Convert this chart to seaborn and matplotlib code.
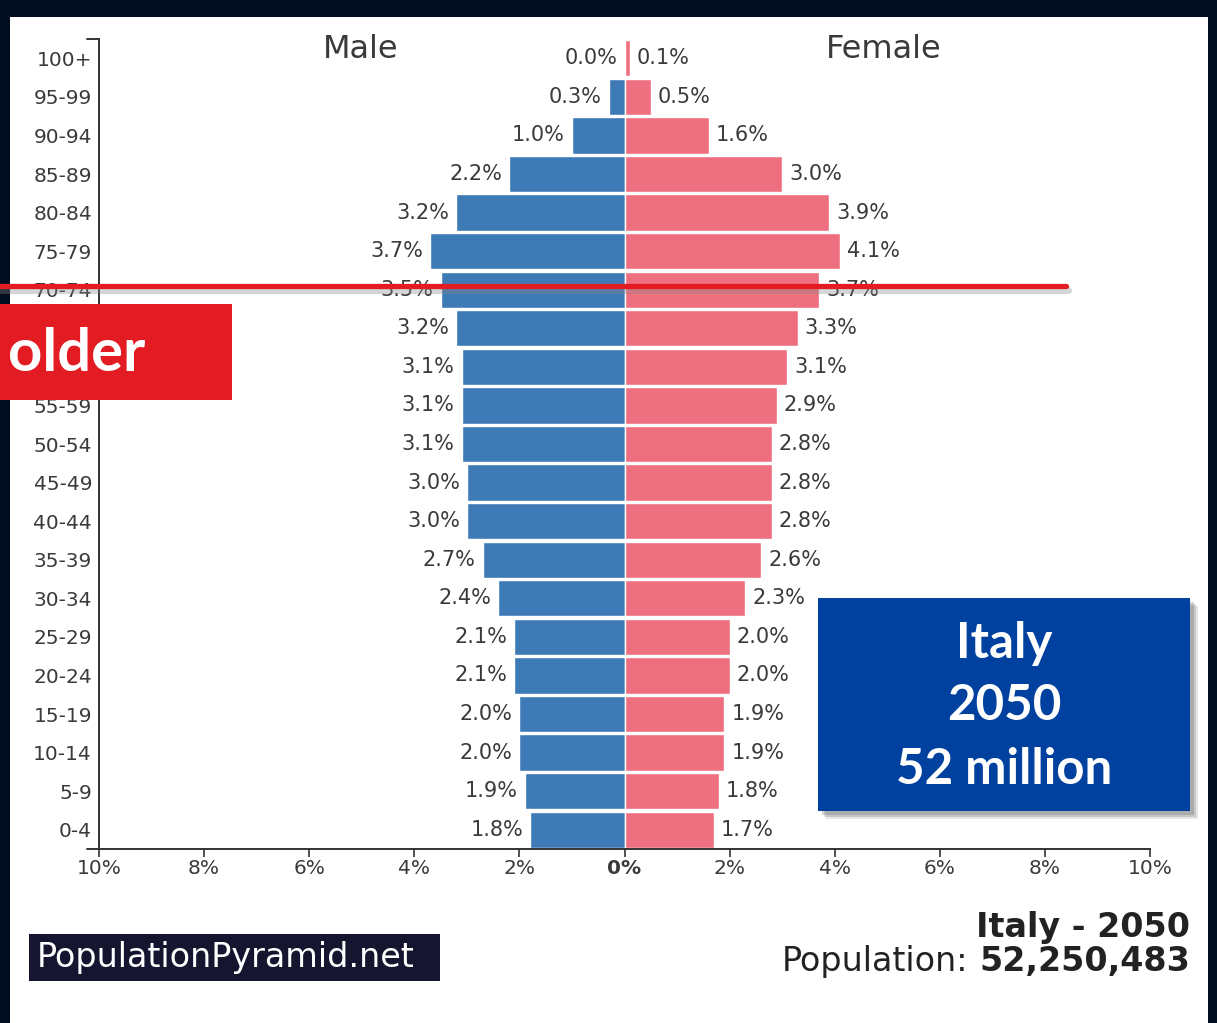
import numpy as np
import pandas as pd
import matplotlib
matplotlib.use('Agg')
import matplotlib.pyplot as plt
import seaborn as sns
from matplotlib.patches import Rectangle
from matplotlib.lines import Line2D

# ---------------- data ----------------
age_groups = ['100+', '95-99', '90-94', '85-89', '80-84', '75-79', '70-74',
              '65-69', '60-64', '55-59', '50-54', '45-49', '40-44', '35-39',
              '30-34', '25-29', '20-24', '15-19', '10-14', '5-9', '0-4']
male_pct = [0.0, 0.3, 1.0, 2.2, 3.2, 3.7, 3.5, 3.2, 3.1, 3.1, 3.1, 3.0, 3.0,
            2.7, 2.4, 2.1, 2.1, 2.0, 2.0, 1.9, 1.8]
female_pct = [0.1, 0.5, 1.6, 3.0, 3.9, 4.1, 3.7, 3.3, 3.1, 2.9, 2.8, 2.8, 2.8,
              2.6, 2.3, 2.0, 2.0, 1.9, 1.9, 1.8, 1.7]
x_ticks = [-10, -8, -6, -4, -2, 0, 2, 4, 6, 8, 10]
x_tick_labels = ['10%', '8%', '6%', '4%', '2%', '0%', '2%', '4%', '6%', '8%', '10%']

MALE = '#3d7ab6'
FEMALE = '#ee6f80'
TXT = '#3a3a3a'

W, H, DPI = 1217, 1023, 100
sns.set_theme(style='white')
plt.rcParams['font.family'] = ['DejaVu Sans']

fig = plt.figure(figsize=(W / DPI, H / DPI), dpi=DPI, facecolor='#010c1e')


def fx(px):
    return px / W


def fy(py):
    return 1 - py / H


# white screenshot panel
fig.add_artist(Rectangle((fx(10), 0), fx(1208) - fx(10), fy(17), transform=fig.transFigure,
                         facecolor='white', edgecolor='none', zorder=-5))

ax = fig.add_axes([fx(99), fy(849), fx(1150) - fx(99), fy(39) - fy(849)])
ax.patch.set_alpha(0)

df = pd.DataFrame({'age': age_groups,
                   'male': [-v for v in male_pct],
                   'female': female_pct})

sns.barplot(data=df, x='male', y='age', order=age_groups, orient='h', color=MALE,
            saturation=1, width=0.94, errorbar=None, ax=ax)
sns.barplot(data=df, x='female', y='age', order=age_groups, orient='h', color=FEMALE,
            saturation=1, width=0.94, errorbar=None, ax=ax)

# value labels: male to the left of the bar end, female to the right
for p, v in zip(ax.containers[0], male_pct):
    xl = min(p.get_x(), p.get_x() + p.get_width())
    ax.annotate(f'{v:.1f}%', (xl, p.get_y() + p.get_height() / 2), xytext=(-5, 0),
                textcoords='offset points', ha='right', va='center',
                fontsize=15, color=TXT)
for p, v in zip(ax.containers[1], female_pct):
    xr = max(p.get_x(), p.get_x() + p.get_width())
    ax.annotate(f'{v:.1f}%', (xr, p.get_y() + p.get_height() / 2), xytext=(5, 0),
                textcoords='offset points', ha='left', va='center',
                fontsize=15, color=TXT)

ax.set_xlim(-10, 10)
ax.set_ylim(20.5, -0.5)
ax.set_xlabel('')
ax.set_ylabel('')
ax.set_xticks(x_ticks)
ax.set_xticklabels(x_tick_labels)
for lbl in ax.get_xticklabels():
    if lbl.get_text() == '0%':
        lbl.set_fontweight('bold')

for s in ['top', 'right']:
    ax.spines[s].set_visible(False)
for s in ['left', 'bottom']:
    ax.spines[s].set_visible(True)
    ax.spines[s].set_color('#333333')
    ax.spines[s].set_linewidth(1.4)

ax.tick_params(axis='x', direction='out', length=6, width=1.2, color='#333333',
               pad=1.5, labelsize=14.5, labelcolor=TXT, bottom=True)
ax.tick_params(axis='y', length=0, pad=5, labelsize=14.5, labelcolor=TXT)

# small axis end decorations
ax.add_line(Line2D([-0.011, 0], [1, 1], transform=ax.transAxes, color='#333333',
                   lw=1.4, clip_on=False))
ax.add_line(Line2D([-0.011, 0], [0, 0], transform=ax.transAxes, color='#333333',
                   lw=1.4, clip_on=False))

# Male / Female headers
fig.text(fx(361), fy(49), 'Male', ha='center', va='center', fontsize=23, color=TXT)
fig.text(fx(884), fy(49), 'Female', ha='center', va='center', fontsize=23, color=TXT)

# PopulationPyramid.net badge
fig.add_artist(Rectangle((fx(29), fy(981)), fx(440) - fx(29), fy(934) - fy(981),
                         transform=fig.transFigure, facecolor='#15152f',
                         edgecolor='none', zorder=5))
fig.text(fx(37), fy(958), 'PopulationPyramid.net', ha='left', va='center',
         fontsize=24, color='white', zorder=6)

# bottom-right caption
fig.text(fx(1190), fy(927), 'Italy - 2050', ha='right', va='center', fontsize=24,
         fontweight='bold', color='#222222')
num = fig.text(fx(1190), fy(961), '52,250,483', ha='right', va='center', fontsize=24,
               fontweight='bold', color='#222222')
fig.canvas.draw()
bb = num.get_window_extent(renderer=fig.canvas.get_renderer())
fig.text((bb.x0 - 11) / W, fy(961), 'Population:', ha='right', va='center',
         fontsize=24, color='#222222')

# red line overlay with shadow
fig.add_artist(Line2D([0, fx(1068)], [fy(290), fy(290)], transform=fig.transFigure,
                      color='#888888', alpha=0.35, lw=5, zorder=9))
fig.add_artist(Line2D([0, fx(1066)], [fy(286), fy(286)], transform=fig.transFigure,
                      color='#e31b23', lw=3.8, zorder=10))

# red "older" box
fig.add_artist(Rectangle((0, fy(400)), fx(232), fy(304) - fy(400), transform=fig.transFigure,
                         facecolor='#e31b23', edgecolor='none', zorder=10))
fig.text(fx(8), fy(354), 'older', ha='left', va='center', fontsize=43,
         fontweight='bold', family=['Lato', 'DejaVu Sans'], color='white', zorder=11)

# blue info box with shadow
for off, a in [(8, 0.15), (6, 0.2), (4, 0.25)]:
    fig.add_artist(Rectangle((fx(818 + off), fy(811 + off)), fx(1190) - fx(818),
                             fy(598) - fy(811), transform=fig.transFigure,
                             facecolor='#555555', alpha=a, edgecolor='none', zorder=10))
fig.add_artist(Rectangle((fx(818), fy(811)), fx(1190) - fx(818), fy(598) - fy(811),
                         transform=fig.transFigure, facecolor='#0041a0',
                         edgecolor='none', zorder=11))
for txt, yy in [('Italy', 643), ('2050', 706), ('52 million', 769)]:
    fig.text(fx(1004), fy(yy), txt, ha='center', va='center', fontsize=35.5,
             fontweight='bold', family=['Lato', 'DejaVu Sans'], color='white', zorder=12)

fig.savefig('out.png', dpi=DPI, facecolor=fig.get_facecolor())
